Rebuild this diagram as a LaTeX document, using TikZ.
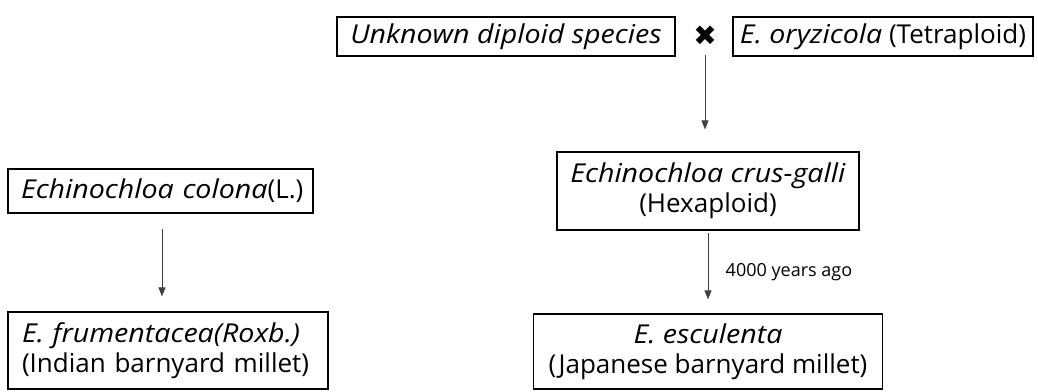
\documentclass[tikz,border=0pt]{standalone}
\usepackage{fontspec}
\setmainfont{Open Sans}[ItalicFeatures={FakeStretch=1.1}]
\newfontfamily\symfont{DejaVu Sans}
\usetikzlibrary{arrows.meta}
\begin{document}
\begin{tikzpicture}[x=1pt,y=-1pt,
  box/.style={draw,line width=1.2pt,inner sep=0pt,align=center,
    font=\fontsize{26}{30}\selectfont},
  arr/.style={-{Triangle[length=9pt,width=7pt]},line width=0.8pt,draw=black!75}]
  \useasboundingbox (0,0) rectangle (1038,391);
  % top row: the cross
  \node[box,minimum width=338pt,minimum height=39pt] (unk) at (506,36.5)
    {\textit{Unknown diploid species}};
  \node[font=\symfont\fontsize{28}{28}\selectfont] (cross) at (705,36) {✖};
  \node[box,minimum width=300pt,minimum height=39pt] (ory) at (883,36.5)
    {\textit{E. oryzicola} (Tetraploid)};
  % right branch
  \node[box,minimum width=302pt,minimum height=78pt] (crus) at (708,191)
    {\textit{Echinochloa crus-galli}\\(Hexaploid)};
  \node[box,minimum width=349pt,minimum height=75pt] (esc) at (708,351.5)
    {\textit{E. esculenta}\\(Japanese barnyard millet)};
  % left branch
  \node[box,minimum width=305pt,minimum height=44pt,text width=295pt,align=left] (col) at (160.5,191)
    {\hspace*{8pt}\textit{Echinochloa colona}(L.)};
  \node[box,minimum width=320pt,minimum height=77pt,text width=292pt,align=left] (fru) at (168,350.5)
    {\textit{E. frumentacea(Roxb.)}\\(Indian barnyard millet)};
  % arrows
  \draw[arr,shorten <=6pt,shorten >=22pt] (cross.south) -- (cross.south |- crus.north);
  \draw[arr,shorten <=2pt,shorten >=14pt] (crus.south) -- (esc.north)
    node[midway,right=14pt,font=\fontsize{18}{18}\selectfont] (age) {4000 years ago};
  \draw[arr,shorten <=15pt,shorten >=15pt] (col.south -| 162,0) -- (fru.north -| 162,0);
\end{tikzpicture}
\end{document}
